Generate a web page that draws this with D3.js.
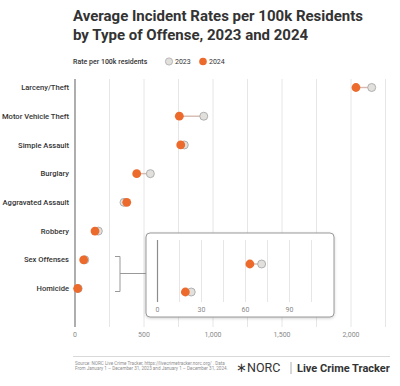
<!DOCTYPE html>
<html lang="en">
<head>
<meta charset="utf-8">
<title>Average Incident Rates</title>
<script src="https://cdn.jsdelivr.net/npm/d3@7"></script>
<style>
  body { margin: 0; background: #fff; }
  svg { font-family: Roboto, sans-serif; }
  .grid line { stroke: #e6e6e6; stroke-width: 1; }
  .tick-lab { fill: #8a8a8a; font-size: 7px; }
  .cat { fill: #333; font-size: 7.6px; font-weight: 500; }
</style>
</head>
<body>
<script>
// data
var categories = ["Larceny/Theft", "Motor Vehicle Theft", "Simple Assault", "Burglary",
                  "Aggravated Assault", "Robbery", "Sex Offenses", "Homicide"];
var rate2023 = [2150, 933, 792, 546, 355, 169, 71, 23];
var rate2024 = [2036, 756, 766, 447, 375, 145, 63, 19];
var xTicks = [0, 500, 1000, 1500, 2000];
var insetCategories = ["Sex Offenses", "Homicide"];
var insetTicks = [0, 30, 60, 90];

var W = 400, H = 386;
var c2024 = "#ec6a2c", c2023fill = "#e2e0dc", c2023stroke = "#a9a9a9", linkColor = "#d7b9b0";

var svg = d3.select("body").append("svg").attr("width", W).attr("height", H);

// title
var title = svg.append("text").attr("x", 73).attr("y", 21)
    .attr("fill", "#333").attr("font-size", "15px").attr("font-weight", "bold");
title.append("tspan").attr("x", 73).text("Average Incident Rates per 100k Residents");
title.append("tspan").attr("x", 73).attr("dy", 18.5).text("by Type of Offense, 2023 and 2024");

// legend
var lg = svg.append("g").attr("transform", "translate(0,61)");
lg.append("text").attr("x", 73).attr("y", 3).attr("font-size", "7px").attr("fill", "#333")
    .attr("font-weight", 500).text("Rate per 100k residents");
lg.append("circle").attr("cx", 169).attr("cy", 0.5).attr("r", 3.6)
    .attr("fill", c2023fill).attr("stroke", c2023stroke).attr("stroke-width", 0.8);
lg.append("text").attr("x", 175).attr("y", 3).attr("font-size", "7px").attr("fill", "#333").text("2023");
lg.append("circle").attr("cx", 203).attr("cy", 0.5).attr("r", 3.8).attr("fill", c2024);
lg.append("text").attr("x", 209).attr("y", 3).attr("font-size", "7px").attr("fill", "#333").text("2024");

// scales
var x = d3.scaleLinear().domain([0, 2000]).range([75, 351]);
var y = d3.scalePoint().domain(categories).range([87.5, 288.5]);
var plotTop = 79, plotBottom = 327;

// gridlines every 250
svg.append("g").attr("class", "grid").selectAll("line")
    .data(d3.range(250, 2251, 250)).enter().append("line")
    .attr("x1", function(d) { return x(d); }).attr("x2", function(d) { return x(d); })
    .attr("y1", plotTop).attr("y2", plotBottom);

// zero line
svg.append("line").attr("x1", x(0)).attr("x2", x(0)).attr("y1", plotTop).attr("y2", plotBottom)
    .attr("stroke", "#8c8c8c").attr("stroke-width", 1.4);

// x axis labels
svg.append("g").selectAll("text").data(xTicks).enter().append("text")
    .attr("class", "tick-lab").attr("text-anchor", "middle")
    .attr("x", function(d) { return x(d); }).attr("y", 337)
    .text(function(d) { return d3.format(",")(d); });

// category labels
svg.append("g").selectAll("text").data(categories).enter().append("text")
    .attr("class", "cat").attr("text-anchor", "end")
    .attr("x", 69).attr("y", function(d) { return y(d) + 2.7; })
    .text(function(d) { return d; });

// dumbbells
function drawDumbbells(g, cats, xs, ys, r) {
    var rows = g.selectAll("g.row").data(cats).enter().append("g").attr("class", "row");
    rows.append("line")
        .attr("x1", function(d) { return xs(rate2023[categories.indexOf(d)]); })
        .attr("x2", function(d) { return xs(rate2024[categories.indexOf(d)]); })
        .attr("y1", function(d) { return ys(d); }).attr("y2", function(d) { return ys(d); })
        .attr("stroke", linkColor).attr("stroke-width", 1.4);
    rows.append("circle")
        .attr("cx", function(d) { return xs(rate2023[categories.indexOf(d)]); })
        .attr("cy", function(d) { return ys(d); }).attr("r", r - 0.4)
        .attr("fill", c2023fill).attr("stroke", c2023stroke).attr("stroke-width", 0.9);
    rows.append("circle")
        .attr("cx", function(d) { return xs(rate2024[categories.indexOf(d)]); })
        .attr("cy", function(d) { return ys(d); }).attr("r", r)
        .attr("fill", c2024);
}
drawDumbbells(svg.append("g"), categories, x, y, 4.4);

// bracket around small values
var br = svg.append("g").attr("fill", "none").attr("stroke", "#999").attr("stroke-width", 1);
br.append("path").attr("d", "M115,256.5 H120 V291.5 H115");
br.append("line").attr("x1", 120).attr("x2", 146).attr("y1", 273.5).attr("y2", 273.5);

// inset panel
var inset = svg.append("g");
inset.append("rect").attr("x", 146).attr("y", 233).attr("width", 188).attr("height", 84)
    .attr("rx", 4).attr("fill", "#fff").attr("stroke", "#9a9a9a").attr("stroke-width", 1)
    .style("filter", "drop-shadow(0px 1px 1.5px rgba(0,0,0,0.18))");
var xi = d3.scaleLinear().domain([0, 90]).range([157.5, 289.5]);
var yi = d3.scalePoint().domain(insetCategories).range([264, 292]);
inset.append("g").attr("class", "grid").selectAll("line")
    .data(d3.range(15, 106, 15)).enter().append("line")
    .attr("x1", function(d) { return xi(d); }).attr("x2", function(d) { return xi(d); })
    .attr("y1", 240).attr("y2", 302);
inset.append("line").attr("x1", xi(0)).attr("x2", xi(0)).attr("y1", 240).attr("y2", 302)
    .attr("stroke", "#8c8c8c").attr("stroke-width", 1.2);
inset.append("g").selectAll("text").data(insetTicks).enter().append("text")
    .attr("class", "tick-lab").attr("text-anchor", "middle")
    .attr("x", function(d) { return xi(d); }).attr("y", 311.5)
    .text(function(d) { return d; });
drawDumbbells(inset.append("g"), insetCategories, xi, yi, 4.4);

// footer
svg.append("line").attr("x1", 73).attr("x2", 390).attr("y1", 356.5).attr("y2", 356.5)
    .attr("stroke", "#cfcfcf").attr("stroke-width", 0.8);
var src = svg.append("text").attr("font-size", "4.6px").attr("fill", "#8f8f8f");
src.append("tspan").attr("x", 75).attr("y", 364.5)
    .text("Source: NORC Live Crime Tracker, https://livecrimetracker.norc.org/ . Data");
src.append("tspan").attr("x", 75).attr("y", 370)
    .text("From January 1 \u2013 December 31, 2023 and January 1 \u2013 December 31, 2024.");
svg.append("text").attr("x", 236).attr("y", 372).attr("font-size", "12.5px").attr("fill", "#333")
    .text("\u2217NORC");
svg.append("line").attr("x1", 291).attr("x2", 291).attr("y1", 362).attr("y2", 374)
    .attr("stroke", "#999").attr("stroke-width", 0.8);
svg.append("text").attr("x", 297).attr("y", 372).attr("font-size", "11px").attr("fill", "#333")
    .attr("font-weight", "bold").text("Live Crime Tracker");
</script>
</body>
</html>
